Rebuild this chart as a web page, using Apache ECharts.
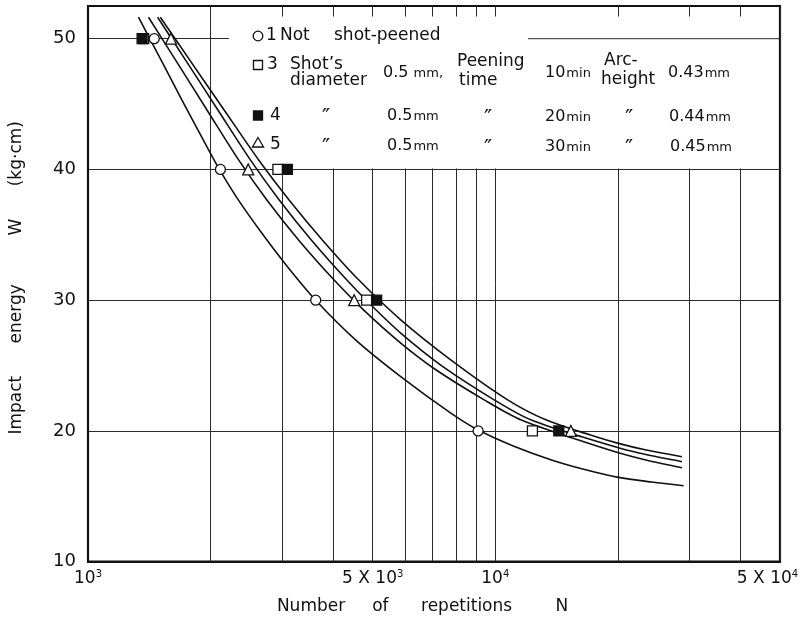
<!DOCTYPE html>
<html>
<head>
<meta charset="utf-8">
<script src="https://cdn.jsdelivr.net/npm/echarts@6/dist/echarts.min.js"></script>
<style>
  html, body { margin: 0; padding: 0; background: #fff; }
  #chart { width: 802px; height: 619px; }
</style>
</head>
<body>
<div id="chart"></div>
<script>
// Impact energy W (kg·cm) against number of repetitions N, log N axis.

// Fitted curves, [N, W]
const curveNotPeened = [[1330,51.64],[1512,48.36],[1701,45.3],[1920,42.24],[2102,40.0],[2341,37.65],[2690,35.0],[3067,32.68],[3623,30.0],[4545,26.95],[5869,24.14],[7793,21.35],[9082,20.07],[11070,18.85],[13737,17.78],[16570,17.05],[20058,16.45],[24230,16.09],[29000,15.81]];
const curvePeen10 = [[1408,51.64],[1641,48.36],[1961,44.53],[2345,40.71],[2752,37.65],[3292,34.59],[4021,31.54],[4754,29.24],[5869,26.7],[7160,24.66],[9412,22.36],[11590,20.83],[16010,19.3],[20058,18.33],[23420,17.78],[28720,17.19]];
const curvePeen20 = [[1482,51.64],[1736,48.36],[2086,44.53],[2506,40.71],[2951,37.65],[3538,34.59],[4321,31.54],[4953,29.63],[5869,27.46],[7346,25.04],[9960,22.36],[12260,20.83],[16380,19.53],[20058,18.72],[23150,18.23],[28720,17.65]];
const curvePeen30 = [[1505,51.64],[1778,48.36],[2161,44.53],[2627,40.71],[3120,37.65],[3766,34.59],[4624,31.54],[5869,28.48],[7788,25.42],[10747,22.36],[13350,20.83],[17120,19.69],[20058,19.05],[23480,18.54],[28720,18.03]];

// Test points, [N, W]
const ptsNotPeened = [[1454,50],[2114,40],[3623,30],[9075,20]];
const ptsPeen10 = [[1370,50],[2926,40],[4831,30],[12334,20]];
const ptsPeen20 = [[1358,50],[3086,40],[5113,30],[14320,20]];
const ptsPeen30 = [[1598,50],[2474,40],[4503,30],[15330,20]];

// Axes
const xMin = 1000, xMax = 50000;
const yMin = 10, yMax = 52.5;
const xGridValues = [1000,2000,3000,4000,5000,6000,7000,8000,9000,10000,20000,30000,40000,50000];
const xLabelValues = [1000,5000,10000,50000];
const yTickValues = [10,20,30,40,50];

const INK = '#111';
const FONT = '"DejaVu Sans", sans-serif';

function xLabel(v) {
  const e = Math.floor(Math.log10(v) + 1e-9);
  const m = Math.round(v / Math.pow(10, e));
  let s = '{n|' + (m === 1 ? '10' : m + ' X 10') + '}{s|' + e + '}';
  if (v === xMax) s += '{pad|}';
  return s;
}

const chart = echarts.init(document.getElementById('chart'), null, { renderer: 'canvas' });

const curveSeries = [curveNotPeened, curvePeen10, curvePeen20, curvePeen30].map(d => ({
  type: 'line', data: d, smooth: 0.3, showSymbol: false, symbol: 'none',
  lineStyle: { color: INK, width: 1.6 }, silent: true, z: 3
}));

function pointSeries(data, symbol, size, fill) {
  return {
    type: 'scatter', data: data, symbol: symbol, symbolSize: size, z: 4, silent: true,
    itemStyle: { color: fill, borderColor: INK, borderWidth: 1.3, opacity: 1 }
  };
}

chart.setOption({
  animation: false,
  backgroundColor: '#fff',
  grid: {
    left: 88, right: 22, top: 6, bottom: 57.3,
    outerBoundsMode: 'none', containLabel: false,
    show: true, borderColor: INK, borderWidth: 2.2, backgroundColor: 'transparent'
  },
  xAxis: {
    type: 'log', logBase: 10, min: xMin, max: xMax,
    name: 'Number     of      repetitions        N',
    nameLocation: 'middle', nameGap: 36,
    nameTextStyle: { fontFamily: FONT, fontSize: 17, color: INK, padding: [0, 23, 0, 0] },
    axisLine: { show: true, lineStyle: { color: INK, width: 2 } },
    axisTick: { show: false, customValues: xGridValues },
    splitLine: { show: true, lineStyle: { color: '#2a2a2a', width: 1 } },
    minorSplitLine: { show: false },
    axisLabel: {
      customValues: xLabelValues, margin: 8, alignMaxLabel: 'center', alignMinLabel: 'center',
      formatter: xLabel,
      rich: {
        n: { fontFamily: FONT, fontSize: 17, color: INK },
        s: { fontFamily: FONT, fontSize: 10, color: INK, verticalAlign: 'top' },
        pad: { width: 25 }
      }
    }
  },
  yAxis: {
    type: 'value', min: yMin, max: yMax,
    name: 'Impact      energy         W      (kg·cm)',
    nameLocation: 'middle', nameGap: 63, nameRotate: 90,
    nameTextStyle: { fontFamily: FONT, fontSize: 17, color: INK, padding: [0, 0, 0, 12] },
    axisLine: { show: true, lineStyle: { color: INK, width: 2 } },
    axisTick: { show: false, customValues: yTickValues },
    splitLine: { show: true, lineStyle: { color: '#2a2a2a', width: 1 } },
    axisLabel: { customValues: yTickValues, margin: 12, fontFamily: FONT, fontSize: 18, color: INK }
  },
  series: curveSeries.concat([
    pointSeries(ptsNotPeened, 'circle', 10, '#fff'),
    pointSeries(ptsPeen10, 'rect', 10, '#fff'),
    pointSeries(ptsPeen20, 'rect', 10, INK),
    pointSeries(ptsPeen30, 'triangle', 11, '#fff')
  ])
});

// Key panel drawn inside the plot area
function txt(text, x, y, size) {
  return {
    type: 'text', x: x, y: y, z: 5, silent: true,
    style: { text: text, fill: INK, font: size + 'px ' + FONT,
      textVerticalAlign: 'middle', verticalAlign: 'middle', textAlign: 'left', align: 'left' }
  };
}
function richTxt(num, unit, x, y) {
  return {
    type: 'text', x: x, y: y, z: 5, silent: true,
    style: {
      text: '{a|' + num + '}{b|' + unit + '}', fill: INK,
      textVerticalAlign: 'middle', verticalAlign: 'middle',
      rich: {
        a: { fontFamily: FONT, fontSize: 16, fill: INK, color: INK },
        b: { fontFamily: FONT, fontSize: 13, fill: INK, color: INK, padding: [2, 0, 0, 1] }
      }
    }
  };
}

const y50 = chart.convertToPixel({ yAxisIndex: 0 }, 50);
const y40 = chart.convertToPixel({ yAxisIndex: 0 }, 40);
const xRight = chart.convertToPixel({ xAxisIndex: 0 }, xMax);
const ditto = '″';

const graphics = [
  { type: 'rect', z: 1, silent: true, shape: { x: 229, y: 16.5, width: xRight - 2 - 229, height: y40 - 1 - 16.5 }, style: { fill: '#fff' } },
  { type: 'line', z: 1, silent: true, shape: { x1: 528, y1: y50, x2: xRight, y2: y50 }, style: { stroke: '#2a2a2a', lineWidth: 1 } },

  // row 1
  { type: 'circle', z: 5, silent: true, shape: { cx: 258, cy: 36, r: 4.8 }, style: { fill: '#fff', stroke: INK, lineWidth: 1.3 } },
  txt('1', 266, 36, 17), txt('Not', 280, 36, 17), txt('shot-peened', 334, 36, 17),

  // row 2
  { type: 'rect', z: 5, silent: true, shape: { x: 253.5, y: 60.5, width: 9, height: 9 }, style: { fill: '#fff', stroke: INK, lineWidth: 1.3 } },
  txt('3', 267, 65, 17), txt('Shot\u2019s', 290, 65, 17), txt('diameter', 290, 81, 17),
  richTxt('0.5', ' mm,', 383, 73),
  txt('Peening', 457, 62, 17), txt('time', 459, 81, 17),
  richTxt('10', 'min', 545, 73),
  txt('Arc-', 604, 61, 17), txt('height', 601, 80, 17),
  richTxt('0.43', 'mm', 668, 73),

  // row 3
  { type: 'rect', z: 5, silent: true, shape: { x: 253.5, y: 111, width: 9, height: 9 }, style: { fill: INK, stroke: INK, lineWidth: 1.3 } },
  txt('4', 270, 116, 17), txt(ditto, 322, 118, 22), richTxt('0.5', 'mm', 387, 116),
  txt(ditto, 484, 119, 22), richTxt('20', 'min', 545, 117), txt(ditto, 625, 119, 22),
  richTxt('0.44', 'mm', 669, 117),

  // row 4
  { type: 'polygon', z: 5, silent: true, shape: { points: [[258, 137.5], [263.5, 147], [252.5, 147]] }, style: { fill: '#fff', stroke: INK, lineWidth: 1.3 } },
  txt('5', 270, 145, 17), txt(ditto, 322, 148, 22), richTxt('0.5', 'mm', 387, 146),
  txt(ditto, 484, 149, 22), richTxt('30', 'min', 545, 147), txt(ditto, 625, 149, 22),
  richTxt('0.45', 'mm', 670, 147)
];

chart.setOption({ graphic: { elements: graphics } });
</script>
</body>
</html>
